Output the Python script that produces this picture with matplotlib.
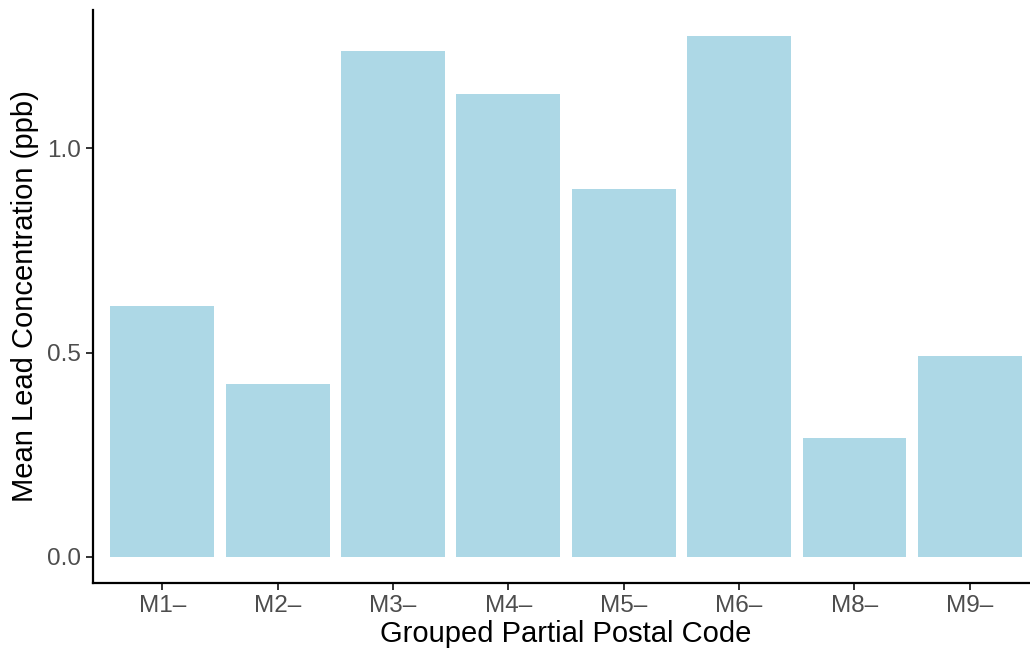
import matplotlib
matplotlib.use("Agg")
import matplotlib.pyplot as plt

# mean lead per grouped partial postal code
codes = ["M1–", "M2–", "M3–", "M4–", "M5–", "M6–", "M8–", "M9–"]
mean_lead = [0.614, 0.423, 1.237, 1.132, 0.900, 1.274, 0.291, 0.491]
y_ticks = [0.0, 0.5, 1.0]

plt.rcParams["font.family"] = ["Liberation Sans", "DejaVu Sans"]

fig = plt.figure(figsize=(10.3, 6.51), dpi=100)
ax = fig.add_axes([93 / 1030, 68 / 651, 946 / 1030, 573 / 651])

pos = list(range(1, len(codes) + 1))
ax.bar(pos, mean_lead, width=0.9, color="#ADD8E6")

ax.set_xlim(0.4, 8.6)
top = max(mean_lead)
ax.set_ylim(-0.05 * top, 1.05 * top)
ax.set_xticks(pos)
ax.set_xticklabels(codes)
ax.set_yticks(y_ticks)
ax.set_yticklabels([f"{v:.1f}" for v in y_ticks])

for side in ["top", "right"]:
    ax.spines[side].set_visible(False)
for side in ["left", "bottom"]:
    ax.spines[side].set_linewidth(1.6)
    ax.spines[side].set_color("black")

ax.tick_params(axis="both", length=5, width=1.4, color="#333333",
               labelcolor="#4D4D4D", labelsize=17.5, pad=3.5)

ax.set_xlabel("Grouped Partial Postal Code", fontsize=21, labelpad=2)
ax.set_ylabel("Mean Lead Concentration (ppb)", fontsize=21, labelpad=6)

fig.savefig("out.png", dpi=100)
